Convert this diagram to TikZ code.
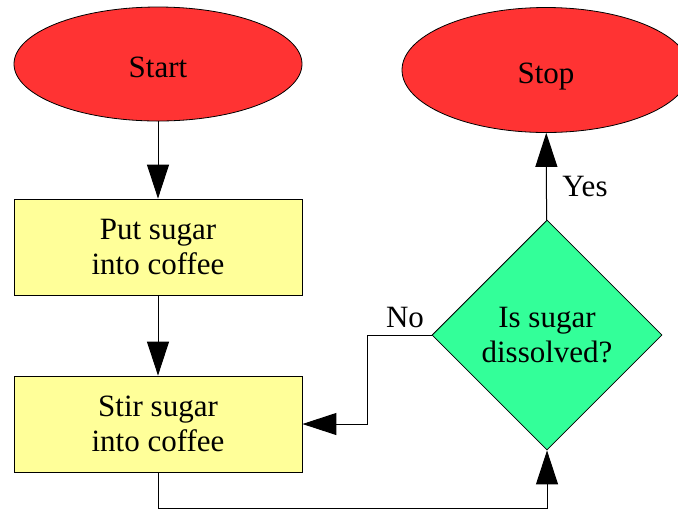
\documentclass[tikz,border=0pt]{standalone}
\usepackage{fontspec}
\setmainfont{Liberation Serif}
\usetikzlibrary{shapes.geometric,arrows.meta}
\begin{document}
\begin{tikzpicture}[x=0.5pt,y=-0.5pt,
  every node/.style={font=\fontsize{15.5}{17.5}\selectfont},
  terminal/.style={draw, ellipse, fill=termred, inner sep=0pt, minimum width=144pt, text height=13.6pt, text depth=0pt},
  stepbox/.style={draw, rectangle, fill=boxyellow, align=center, inner sep=0pt, minimum width=144pt, minimum height=48pt},
  question/.style={draw, diamond, fill=decgreen, align=center, inner sep=0pt, aspect=1, minimum width=115pt, minimum height=115pt},
  flow/.style={draw, line width=0.5pt, -{Triangle[length=17pt,width=11pt]}}]
\definecolor{termred}{rgb}{1,0.2,0.2}
\definecolor{boxyellow}{rgb}{1,1,0.6}
\definecolor{decgreen}{rgb}{0.2,1,0.6}
\useasboundingbox (0,0) rectangle (678,510);

\node[terminal, minimum height=57pt] (start) at (158,64) {Start};
\node[stepbox] (put) at (158,247) {Put sugar\\into coffee};
\node[stepbox] (stir) at (158,424) {Stir sugar\\into coffee};
\node[question] (dissolved) at (547,335) {Is sugar\\dissolved?};
\node[terminal, minimum height=62.5pt] (stop) at (546,70) {Stop};
\coordinate (nobend) at (367,335);
\coordinate (loopbend) at (158,508);

\path[flow] (start) -- (put);
\path[flow] (put) -- (stir);
\path[flow] (stir) -- (loopbend) -| (dissolved);
\path[flow] (dissolved) -- (nobend) |- (stir);
\path[flow] (dissolved) -- (stop);
\node[anchor=base] (yes) at (585,196) {Yes};
\node[anchor=base] (no) at (405,327) {No};
\end{tikzpicture}
\end{document}
